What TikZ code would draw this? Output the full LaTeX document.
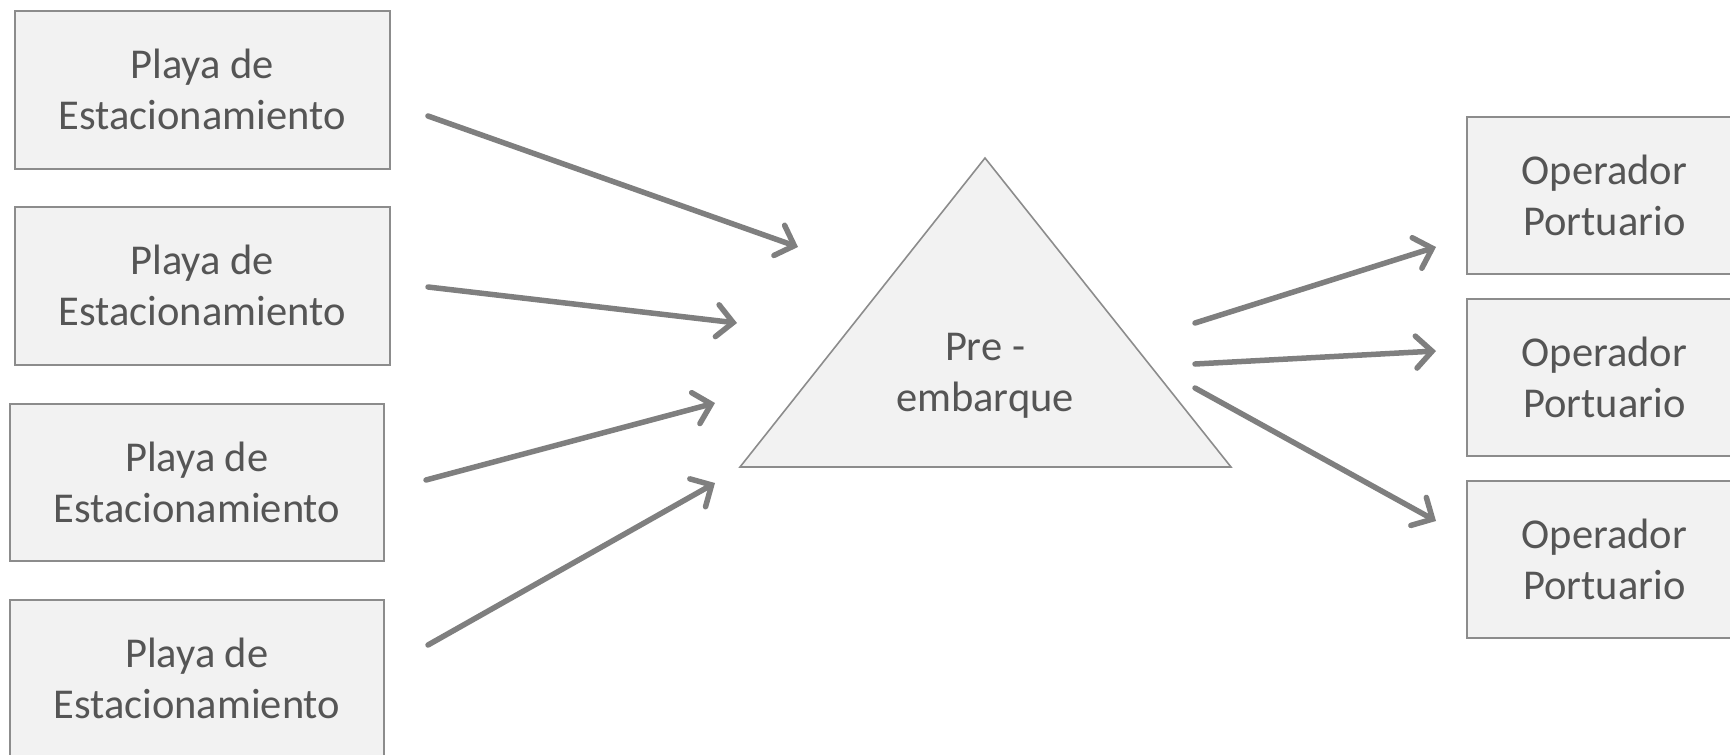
\documentclass[tikz,border=0pt]{standalone}
\usepackage{fontspec}
\setmainfont{Carlito}
\usetikzlibrary{arrows.meta}
\definecolor{boxfill}{HTML}{F2F2F2}
\definecolor{boxline}{HTML}{8C8C8C}
\definecolor{txt}{HTML}{555555}
\definecolor{arr}{HTML}{7F7F7F}
\begin{document}
\begin{tikzpicture}[x=1pt,y=-1pt,
  box/.style={draw=boxline,line width=1.6pt,fill=boxfill,text=txt,align=center,
    font=\fontsize{42.5}{51}\selectfont,inner sep=0pt},
  flow/.style={draw=arr,line width=5.5pt,line cap=round,
    -{Straight Barb[length=16pt,width=32pt,line cap=round]}}]
\useasboundingbox (0,0) rectangle (1730,755);
% left boxes
\node[box,minimum width=375pt,minimum height=158pt,anchor=north west] (p1) at (14,10) {Playa de\\Estacionamiento};
\node[box,minimum width=375pt,minimum height=158pt,anchor=north west] (p2) at (14,206) {Playa de\\Estacionamiento};
\node[box,minimum width=374pt,minimum height=157pt,anchor=north west] (p3) at (9,403) {Playa de\\Estacionamiento};
\node[box,minimum width=374pt,minimum height=157pt,anchor=north west] (p4) at (9,599) {Playa de\\Estacionamiento};
% right boxes
\node[box,minimum width=275pt,minimum height=157pt,anchor=north west] (o1) at (1466,116) {Operador\\Portuario};
\node[box,minimum width=275pt,minimum height=157pt,anchor=north west] (o2) at (1466,298) {Operador\\Portuario};
\node[box,minimum width=275pt,minimum height=157pt,anchor=north west] (o3) at (1466,480) {Operador\\Portuario};
% triangle
\coordinate (tA) at (985,158);
\coordinate (tL) at (740,467);
\coordinate (tR) at (1231,467);
\draw[draw=boxline,line width=1.6pt,fill=boxfill,line join=miter] (tA) -- (tL) -- (tR) -- cycle;
\node[text=txt,align=center,font=\fontsize{42.5}{51}\selectfont,inner sep=0pt] (pre) at (985,376) {Pre -\\embarque};
% arrow endpoints
\coordinate (a1s) at (428,116); \coordinate (a1e) at (798,247);
\coordinate (a2s) at (428,287); \coordinate (a2e) at (737,323);
\coordinate (a3s) at (426,480); \coordinate (a3e) at (715,403);
\coordinate (a4s) at (428,645); \coordinate (a4e) at (715,483);
\coordinate (b1s) at (1195,323); \coordinate (b1e) at (1436,247);
\coordinate (b2s) at (1195,364); \coordinate (b2e) at (1436,351);
\coordinate (b3s) at (1195,388); \coordinate (b3e) at (1436,521);
\draw[flow] (a1s) -- (a1e);
\draw[flow] (a2s) -- (a2e);
\draw[flow] (a3s) -- (a3e);
\draw[flow] (a4s) -- (a4e);
\draw[flow] (b1s) -- (b1e);
\draw[flow] (b2s) -- (b2e);
\draw[flow] (b3s) -- (b3e);
\end{tikzpicture}
\end{document}
